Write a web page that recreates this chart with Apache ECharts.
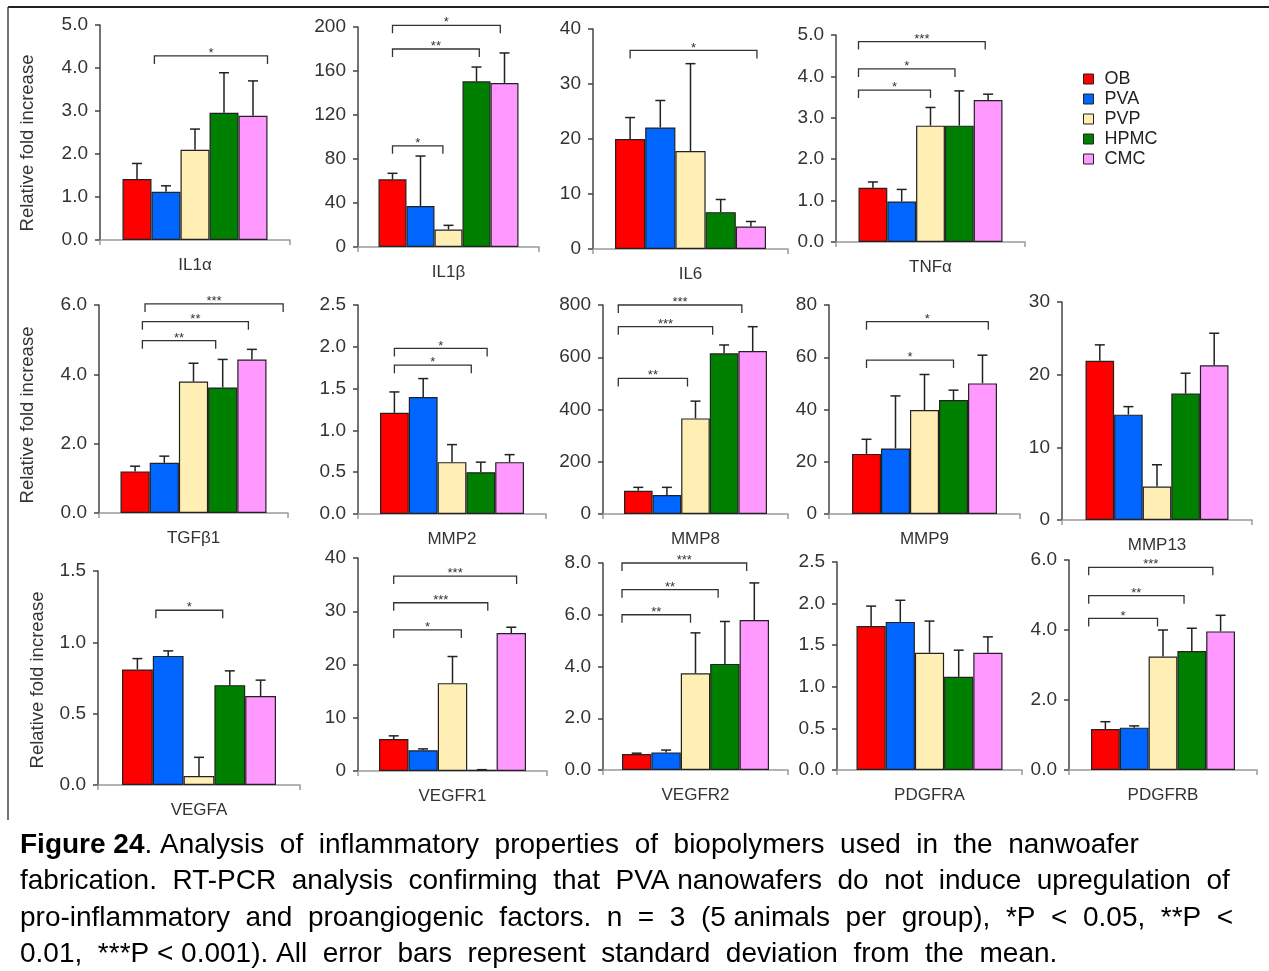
<!DOCTYPE html>
<html>
<head>
<meta charset="utf-8">
<script src="https://cdn.jsdelivr.net/npm/echarts@6/dist/echarts.min.js"></script>
<style>
  html, body { margin: 0; padding: 0; background: #fff; }
  #chart { width: 1269px; height: 971px; }
</style>
</head>
<body>
<div id="chart"></div>
<script>
// --- data ---
const genes = ["IL1α", "IL1β", "IL6", "TNFα", "TGFβ1", "MMP2", "MMP8", "MMP9", "MMP13", "VEGFA", "VEGFR1", "VEGFR2", "PDGFRA", "PDGFRB"];
const groups = ["OB", "PVA", "PVP", "HPMC", "CMC"];

const obMean   = [1.42, 61.5, 20.0, 1.31, 1.20, 1.21, 89, 23.0, 21.9, 0.81, 6.0, 0.62, 1.73, 1.17];
const obSd     = [0.36, 5.5, 3.9, 0.14, 0.15, 0.25, 13, 5.6, 2.2, 0.076, 0.6, 0.03, 0.24, 0.21];
const pvaMean  = [1.12, 37.3, 22.1, 0.98, 1.45, 1.40, 73, 25.1, 14.5, 0.905, 3.9, 0.68, 1.78, 1.21];
const pvaSd    = [0.14, 45.4, 4.9, 0.29, 0.19, 0.22, 29, 20.1, 1.1, 0.035, 0.25, 0.09, 0.26, 0.05];
const pvpMean  = [2.10, 15.8, 17.8, 2.81, 3.79, 0.62, 366, 39.8, 4.6, 0.063, 16.5, 3.74, 1.41, 3.24];
const pvpSd    = [0.48, 3.9, 15.9, 0.44, 0.53, 0.21, 66, 13.6, 3.0, 0.131, 5.0, 1.56, 0.38, 0.76];
const hpmcMean = [2.96, 150.6, 6.7, 2.81, 3.62, 0.50, 615, 43.6, 17.4, 0.70, 0.25, 4.10, 1.12, 3.40];
const hpmcSd   = [0.93, 13.0, 2.3, 0.84, 0.81, 0.12, 32, 3.8, 2.8, 0.10, 0, 1.64, 0.32, 0.65];
const cmcMean  = [2.89, 149, 4.1, 3.43, 4.43, 0.62, 624, 50.0, 21.3, 0.623, 25.9, 5.80, 1.41, 3.96];
const cmcSd    = [0.81, 27.4, 0.9, 0.14, 0.29, 0.09, 93, 10.8, 4.4, 0.112, 1.1, 1.43, 0.19, 0.46];

// y axis: max, step, decimals
const yMax  = [5, 200, 40, 5, 6, 2.5, 800, 80, 30, 1.5, 40, 8, 2.5, 6];
const yStep = [1, 40, 10, 1, 2, 0.5, 200, 20, 10, 0.5, 10, 2, 0.5, 2];
const yDec  = [1, 0, 0, 1, 1, 1, 0, 0, 0, 1, 0, 1, 1, 1];

// significance brackets: [chart, from bar, to bar, level, stars]
const brackets = [
  [0, 0.6, 4.5, 4.28, 1],
  [1, 0, 1.8, 92, 1], [1, 0, 3.1, 180, 2], [1, 0, 3.85, 201.5, 1],
  [2, 0, 4.2, 36.1, 1],
  [3, -0.5, 2, 3.67, 1], [3, -0.5, 2.85, 4.18, 1], [3, -0.5, 3.9, 4.84, 3],
  [4, 0.25, 2.76, 4.97, 2], [4, 0.25, 3.88, 5.52, 2], [4, 0.34, 5.07, 6.03, 3],
  [5, 0, 2.67, 1.78, 1], [5, 0, 3.22, 1.98, 1],
  [6, -0.7, 1.72, 519, 2], [6, -0.7, 2.6, 717, 3], [6, -0.7, 3.62, 800, 3],
  [7, 0, 3, 58.9, 1], [7, 0, 4.2, 73.6, 1],
  [9, 0.6, 2.77, 1.225, 1],
  [10, 0, 2.3, 26.5, 1], [10, 0, 3.2, 31.6, 3], [10, 0, 4.18, 36.6, 3],
  [11, -0.5, 1.83, 6.0, 2], [11, -0.5, 2.77, 6.97, 2], [11, -0.5, 3.74, 8.0, 3],
  [13, -0.58, 1.81, 4.33, 1], [13, -0.58, 2.73, 4.98, 2], [13, -0.58, 3.73, 5.79, 3],
];

const yTitle = "Relative fold increase";
const captionLines = [
  "{b|Figure 24}. Analysis  of  inflammatory  properties  of  biopolymers  used  in  the  nanwoafer",
  "fabrication.  RT-PCR  analysis  confirming  that  PVA nanowafers  do  not  induce  upregulation  of",
  "pro-inflammatory  and  proangiogenic  factors.  n  =  3  (5 animals  per  group),  *P  <  0.05,  **P  <",
  "0.01,  ***P < 0.001). All  error  bars  represent  standard  deviation  from  the  mean.",
];

// --- layout (pixels): [axis left, top tick, axis right, zero line], bar block width ---
const layout = [
  [100, 25, 290, 240], [358, 27, 539, 247], [593, 29, 788, 249], [836, 35, 1025, 242],
  [99, 305, 288, 513], [358, 305, 546, 514], [603, 305, 788, 514], [829, 305, 1020, 514], [1062, 302, 1252, 520],
  [98, 571, 300, 785], [358, 558, 547, 771], [603, 563, 788, 770], [837, 562, 1022, 770], [1069, 560, 1257, 770],
];
const barSpan = [145, 140, 151, 144, 146, 144, 143, 145, 143, 154, 147, 147, 146, 144];
const yTitlePos = [[28, 143], [28, 415], [38, 680]];

const colors = ["#ff0000", "#0066ff", "#ffefb5", "#008000", "#ff99ff"];
const FONT = "'Liberation Sans', Arial, sans-serif";
const INK = "#333";

const means = [obMean, pvaMean, pvpMean, hpmcMean, cmcMean];
const sds = [obSd, pvaSd, pvpSd, hpmcSd, cmcSd];

const grids = [], xAxes = [], yAxes = [], series = [];

layout.forEach(([l, t, r, b], i) => {
  const gapFrac = 1 - barSpan[i] / (r - l);
  grids.push({ left: l, top: t, width: r - l, height: b - t });
  xAxes.push({
    gridIndex: i, type: "category", data: [genes[i]],
    axisLine: { lineStyle: { color: "#9a9a9a", width: 1.5 } },
    axisTick: { show: true, length: 5, lineStyle: { color: "#9a9a9a", width: 1.5 } },
    axisLabel: { margin: 17, fontSize: 17, color: INK, fontFamily: FONT },
  });
  yAxes.push({
    gridIndex: i, type: "value", min: 0, max: yMax[i], interval: yStep[i],
    axisLine: { show: true, lineStyle: { color: "#444", width: 1.5 } },
    axisTick: { show: true, length: 5, lineStyle: { color: "#444", width: 1.5 } },
    splitLine: { show: false },
    axisLabel: { margin: 12, fontSize: 19, color: INK, fontFamily: FONT, formatter: (v) => v.toFixed(yDec[i]) },
  });
  groups.forEach((g, k) => {
    series.push({
      type: "bar", name: g, xAxisIndex: i, yAxisIndex: i,
      data: [means[k][i]],
      barGap: "0%", barCategoryGap: (gapFrac * 100).toFixed(2) + "%",
      itemStyle: { color: colors[k], borderColor: "#222", borderWidth: 1.2 },
      emphasis: { disabled: true },
    });
  });
  // error bars (upper whisker only)
  series.push({
    type: "custom", xAxisIndex: i, yAxisIndex: i, clip: false, z: 5,
    data: groups.map((g, k) => [0, means[k][i], sds[k][i], k]),
    renderItem: (params, api) => {
      const base = api.coord([0, api.value(1)]);
      const top = api.coord([0, api.value(1) + api.value(2)]);
      const span = api.size([1, 0])[0] * (1 - gapFrac);
      const bw = span / 5;
      const x = base[0] - span / 2 + (api.value(3) + 0.5) * bw;
      const style = { stroke: "#222", lineWidth: 1.5 };
      return {
        type: "group",
        children: [
          { type: "line", shape: { x1: x, y1: base[1], x2: x, y2: top[1] }, style },
          { type: "line", shape: { x1: x - 5, y1: top[1], x2: x + 5, y2: top[1] }, style },
        ],
      };
    },
  });
  // significance brackets
  const rows = brackets.filter((row) => row[0] === i);
  if (rows.length) {
    series.push({
      type: "custom", xAxisIndex: i, yAxisIndex: i, clip: false, z: 6,
      data: rows.map((row) => [0, row[3], row[1], row[2], row[4]]),
      renderItem: (params, api) => {
        const p = api.coord([0, api.value(1)]);
        const span = api.size([1, 0])[0] * (1 - gapFrac);
        const bw = span / 5;
        const x0 = p[0] - span / 2;
        const x1 = x0 + (api.value(2) + 0.5) * bw;
        const x2 = x0 + (api.value(3) + 0.5) * bw;
        const y = p[1];
        return {
          type: "group",
          children: [
            { type: "polyline", shape: { points: [[x1, y + 8], [x1, y], [x2, y], [x2, y + 8]] },
              style: { stroke: "#333", lineWidth: 1.3, fill: null } },
            { type: "text", x: (x1 + x2) / 2, y: y + 4,
              style: { text: "*".repeat(api.value(4)), fill: "#333", font: "13px " + FONT, align: "center", verticalAlign: "bottom" } },
          ],
        };
      },
    });
  }
});

const chart = echarts.init(document.getElementById("chart"));
chart.setOption({
  animation: false,
  backgroundColor: "#fff",
  grid: grids,
  xAxis: xAxes,
  yAxis: yAxes,
  legend: {
    data: groups, orient: "vertical", left: 1083, top: 70, padding: 0,
    itemWidth: 10, itemHeight: 10, itemGap: 2, icon: "rect",
    itemStyle: { borderColor: "#222", borderWidth: 1 },
    textStyle: { fontSize: 18, lineHeight: 18, color: "#222", fontFamily: FONT, padding: [0, 0, 0, 6] },
  },
  series,
  graphic: [
    { type: "line", shape: { x1: 8, y1: 7, x2: 1269, y2: 7 }, style: { stroke: "#222", lineWidth: 2 } },
    { type: "line", shape: { x1: 8, y1: 7, x2: 8, y2: 820 }, style: { stroke: "#444", lineWidth: 1.5 } },
    ...yTitlePos.map(([x, y]) => ({
      type: "text", x, y, rotation: Math.PI / 2,
      style: { text: yTitle, fill: INK, font: "18.5px " + FONT, align: "center", verticalAlign: "middle" },
    })),
    ...captionLines.map((txt, j) => ({
      type: "text", left: 20, top: 831 + j * 36.5,
      style: {
        text: txt, fill: "#000", font: "28px " + FONT,
        rich: { b: { fontWeight: "bold", fontSize: 28, fontFamily: FONT, fill: "#000" } },
      },
    })),
  ],
});
</script>
</body>
</html>
